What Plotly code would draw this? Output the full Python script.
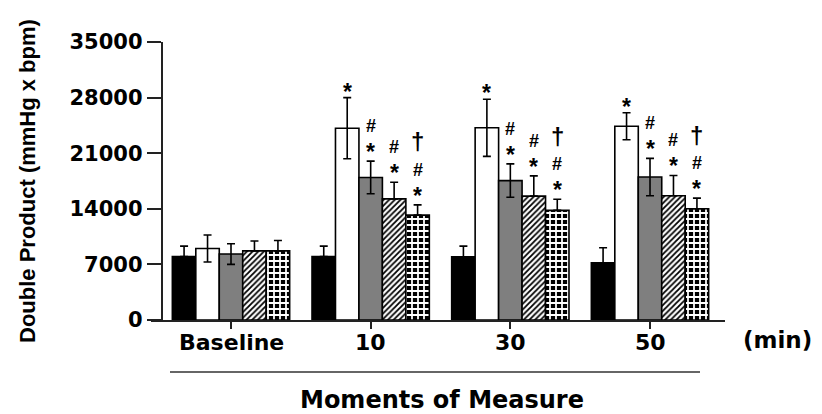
import plotly.graph_objects as go

categories = ["Baseline", "10", "30", "50"]
series_names = ["Control", "Group A", "Group B", "Group C", "Group D"]

black_vals = [8000, 8000, 7950, 7200]
black_err = [1300, 1300, 1350, 1900]
white_vals = [9000, 24150, 24200, 24400]
white_err = [1700, 3850, 3600, 1700]
gray_vals = [8300, 17950, 17550, 18000]
gray_err = [1300, 2050, 2100, 2350]
hatch_vals = [8700, 15250, 15600, 15650]
hatch_err = [1250, 2100, 2550, 2550]
check_vals = [8700, 13200, 13800, 14000]
check_err = [1300, 1300, 1400, 1350]

white_sig = ["", "*", "*", "*"]
gray_sig = ["", "*#", "*#", "*#"]
hatch_sig = ["", "*#", "*#", "*#"]
check_sig = ["", "*#†", "*#†", "*#†"]

y_ticks = [0, 7000, 14000, 21000, 28000, 35000]

BARGAP = 0.16
xpos = list(range(len(categories)))

fig = go.Figure()

def err(vals, up_only):
    d = dict(type="data", array=vals, color="black", thickness=1.6, width=4)
    if up_only:
        d["symmetric"] = False
        d["arrayminus"] = [0] * len(vals)
    return d

line = dict(color="black", width=1.6)

fig.add_trace(go.Bar(x=xpos, y=black_vals, name=series_names[0],
                     marker=dict(color="black", line=line),
                     error_y=err(black_err, True)))
fig.add_trace(go.Bar(x=xpos, y=white_vals, name=series_names[1],
                     marker=dict(color="white", line=line),
                     error_y=err(white_err, False)))
fig.add_trace(go.Bar(x=xpos, y=gray_vals, name=series_names[2],
                     marker=dict(color="#7f7f7f", line=line),
                     error_y=err(gray_err, False)))
fig.add_trace(go.Bar(x=xpos, y=hatch_vals, name=series_names[3],
                     marker=dict(color="white", line=line,
                                 pattern=dict(shape="/", bgcolor="white", fgcolor="black",
                                              size=4, solidity=0.45, fillmode="replace")),
                     error_y=err(hatch_err, True)))
fig.add_trace(go.Bar(x=xpos, y=check_vals, name=series_names[4],
                     marker=dict(color="black", line=line,
                                 pattern=dict(shape="+", bgcolor="black", fgcolor="white",
                                              size=6, solidity=0.5, fillmode="replace")),
                     error_y=err(check_err, True)))

# significance markers: (symbol, font size, pixel shift above the error-bar top)
bw = (1 - BARGAP) / 5
sym_style = {"*": (23, 9), "#": (18, 35), "†": (24, 63)}
sig_font = dict(family="Liberation Sans", color="black", weight="bold")
annotations = []
for idx, (vals, errs, sigs) in enumerate([(white_vals, white_err, white_sig),
                                          (gray_vals, gray_err, gray_sig),
                                          (hatch_vals, hatch_err, hatch_sig),
                                          (check_vals, check_err, check_sig)]):
    i = idx + 1
    for g in xpos:
        for s in sigs[g]:
            size, shift = sym_style[s]
            if i == 1:
                shift = 6
            annotations.append(dict(
                x=g + (i - 2) * bw, y=vals[g] + errs[g], xref="x", yref="y",
                text=s, showarrow=False, xanchor="center", yanchor="middle",
                yshift=shift, font=dict(size=size, **sig_font)))

# page body has an 8px default margin: figure is drawn offset by OFF
OFF = 8
W, H = 822 - OFF, 414 - OFF
L, R, T, B = 151 - OFF, 725 - OFF, 42 - OFF, 320 - OFF
pw, ph = R - L, B - T
def px(xp):
    return (xp - OFF - L) / pw
def py(yp):
    return (B - (yp - OFF)) / ph

bold = dict(color="black", weight="bold")
for g, lab in zip(xpos, categories):
    annotations.append(dict(x=g, y=py(342), xref="x", yref="paper", text=lab,
                            showarrow=False, xanchor="center", yanchor="middle",
                            font=dict(family="DejaVu Sans", size=22, **bold)))
annotations.append(dict(x=px(27), y=py(181), xref="paper", yref="paper",
                        text="Double Product (mmHg x bpm)", textangle=-90, showarrow=False,
                        xanchor="center", yanchor="middle",
                        font=dict(family="Liberation Sans", size=22, **bold)))
annotations.append(dict(x=px(777), y=py(340), xref="paper", yref="paper",
                        text="(min)", showarrow=False, xanchor="center", yanchor="middle",
                        font=dict(family="DejaVu Sans", size=23, **bold)))
annotations.append(dict(x=px(442), y=py(400), xref="paper", yref="paper",
                        text="Moments of Measure", showarrow=False,
                        xanchor="center", yanchor="middle",
                        font=dict(family="DejaVu Sans", size=24, **bold)))

shapes = [dict(type="line", xref="paper", yref="paper", x0=px(170), x1=px(700),
               y0=py(372), y1=py(372), line=dict(color="#333", width=1.6))]

fig.update_layout(
    width=W, height=H,
    margin=dict(l=L, r=W - R, t=T, b=H - B, pad=0),
    paper_bgcolor="white", plot_bgcolor="white",
    barmode="group", bargap=BARGAP, bargroupgap=0,
    showlegend=False,
    annotations=annotations, shapes=shapes,
    xaxis=dict(range=[(151 - 231) / 139.67, (725 - 231) / 139.67],
               tickvals=xpos, showticklabels=False,
               showline=True, linecolor="#222", linewidth=2,
               ticks="outside", ticklen=7, tickwidth=2, tickcolor="#222",
               showgrid=False, zeroline=False),
    yaxis=dict(range=[0, 35000], tickvals=y_ticks, ticktext=[str(v) for v in y_ticks],
               anchor="free", position=px(161.7),
               showline=True, linecolor="#222", linewidth=2,
               ticks="outside", ticklen=14, tickwidth=2, tickcolor="#222",
               showgrid=False, zeroline=False,
               tickfont=dict(family="DejaVu Sans", size=21, **bold)),
)

fig.write_html("out.html")
